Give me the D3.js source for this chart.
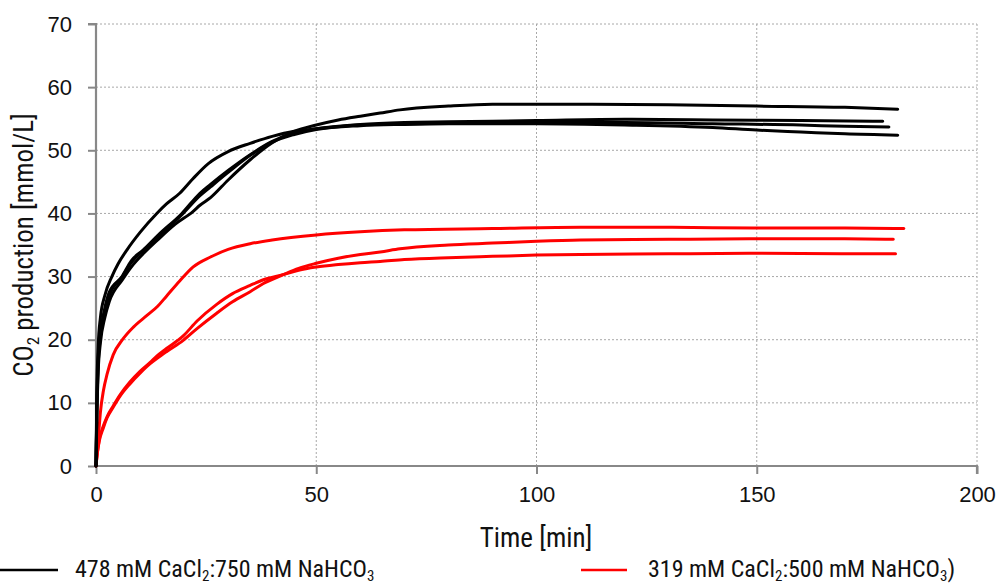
<!DOCTYPE html>
<html><head><meta charset="utf-8">
<script src="https://cdn.jsdelivr.net/npm/d3@7"></script>
<style>
body{margin:0;background:#fff;}
svg{display:block;}
.tick text{font-family:"Liberation Sans",Arial,sans-serif;font-size:22px;fill:#111;}
.ttl{font-family:"Liberation Sans Narrow","Roboto Condensed","Liberation Sans",sans-serif;fill:#111;}
</style></head>
<body><svg id="c" width="1003" height="586"></svg>
<script>
// ---- data (time [min], CO2 [mmol/L]) ----
const xTicks = [0, 50, 100, 150, 200];
const yTicks = [0, 10, 20, 30, 40, 50, 60, 70];
const seriesNames = ["478 mM CaCl2:750 mM NaHCO3", "319 mM CaCl2:500 mM NaHCO3)"];

const black1 = [[0,0],[0.2,8],[0.5,15],[1,19.5],[2,23.5],[3,26],[6,29.5],[8,31.5],[11,33.8],[14,35.8],[18,38.3],[22,40.3],[23.6,41.3],[26,42.5],[30,45.3],[35,48.5],[40,51.2],[45,53.0],[50,54.0],[55,54.8],[60,55.4],[64.5,55.9],[69,56.4],[80,57.0],[90,57.3],[110,57.3],[130,57.2],[150,57.0],[170,56.8],[182,56.5]];
const black2 = [[0,0],[0.2,10],[0.5,17],[1,21],[2,25],[3,27.5],[5.9,30],[8,32.5],[10.7,34.2],[14,36.5],[19.5,40],[23.6,43.2],[26,44.6],[30,46.8],[35,49.3],[40,51.4],[45,52.7],[50,53.4],[60,54.1],[70,54.4],[80,54.5],[100,54.7],[120,54.9],[140,54.8],[160,54.7],[178.6,54.6]];
const black3 = [[0,0],[0.2,12],[0.5,19],[1,23.5],[2,27],[3.6,30],[5,32],[7,34.2],[10,37],[13.8,40],[16,41.5],[19,43.2],[22,45.5],[25.5,47.9],[30,49.8],[35,51.1],[40,52.2],[45,53],[50,53.4],[60,54],[70,54.2],[80,54.3],[100,54.4],[120,54.4],[140,54.2],[160,54.0],[170,53.8],[180,53.7]];
const black4 = [[0,0],[0.2,9],[0.5,16],[1,20.5],[2,24.5],[3,27],[6,30],[8,32.2],[11,34.3],[14,36.3],[19.5,39.8],[23.6,42.8],[26,44.2],[30,46.5],[35,49.2],[40,51.3],[45,52.5],[50,53.3],[60,53.9],[70,54.1],[80,54.2],[100,54.2],[120,54.0],[140,53.6],[150,53.2],[160,52.9],[170,52.6],[182,52.4]];

const red1 = [[0,0],[0.3,3],[0.7,6],[1,8.5],[1.7,12],[2.5,14.5],[3.9,17.6],[6,20],[8.5,22],[11.5,23.8],[14,25.3],[16,26.9],[19,29.3],[22,31.5],[26,33.1],[30,34.3],[35,35.2],[40,35.8],[50,36.6],[60,37.1],[70,37.4],[90,37.6],[110,37.8],[130,37.8],[150,37.7],[170,37.7],[183.4,37.6]];
const red2 = [[0,0],[0.3,2],[0.7,3.8],[1.7,6.1],[2.5,7.6],[3.9,9.3],[5.5,11.1],[7.7,13.0],[10,14.7],[12.3,16.2],[13.8,17.0],[16,18.1],[19.8,19.9],[23,21.8],[27.4,24.2],[31,26.0],[35,27.6],[38,28.9],[42.5,30.3],[46,31.3],[50,32.1],[55,32.9],[60,33.5],[64.5,33.9],[69,34.4],[80,35.0],[90,35.3],[100,35.6],[110,35.8],[130,35.9],[150,36.0],[170,36.0],[181,35.9]];
const red3 = [[0,0],[0.3,2],[0.7,4],[1.7,6.4],[2.5,7.8],[3.9,9.5],[5.5,11.3],[7.7,13.3],[10,15],[12.3,16.4],[13.8,17.4],[16,18.6],[19.8,20.6],[23,23],[27.4,25.6],[31,27.3],[35,28.6],[38,29.5],[42.5,30.3],[46,31],[50,31.5],[55,31.9],[60,32.2],[64.5,32.4],[70,32.7],[80,33.0],[90,33.2],[100,33.4],[110,33.5],[130,33.6],[150,33.7],[170,33.6],[181.5,33.6]];

const blackSeries = [black1, black2, black3, black4];
const redSeries = [red1, red2, red3];

// ---- layout ----
const L = 96, R = 977, T = 24, B = 466;
const svg = d3.select("#c");
const x = d3.scaleLinear().domain([0, 200]).range([L, R]);
const y = d3.scaleLinear().domain([0, 70]).range([B, T]);

// grid
const g = svg.append("g");
g.selectAll(".hg").data(yTicks.filter(d => d > 0)).join("line")
  .attr("x1", L).attr("x2", R).attr("y1", d => y(d)).attr("y2", d => y(d))
  .attr("stroke", "#a8a8a8").attr("stroke-width", 1).attr("stroke-dasharray", "2,2");
g.selectAll(".vg").data(xTicks.filter(d => d > 0)).join("line")
  .attr("y1", T).attr("y2", B).attr("x1", d => x(d)).attr("x2", d => x(d))
  .attr("stroke", "#a8a8a8").attr("stroke-width", 1).attr("stroke-dasharray", "2,2");

// axes
const xAxis = svg.append("g").attr("transform", `translate(0,${B})`)
  .call(d3.axisBottom(x).tickValues(xTicks).tickSize(8).tickPadding(12).tickFormat(d3.format("d")));
const yAxis = svg.append("g").attr("transform", `translate(${L},0)`)
  .call(d3.axisLeft(y).tickValues(yTicks).tickSize(8).tickPadding(16).tickFormat(d3.format("d")));
[xAxis, yAxis].forEach(a => {
  a.select(".domain").attr("stroke", "#888").attr("stroke-width", 2.2);
  a.selectAll(".tick line").attr("stroke", "#888").attr("stroke-width", 2);
});
xAxis.select(".domain").attr("d", `M${L},0H${R}V8`);
yAxis.select(".domain").attr("d", `M-8,${T}H0V${B}`);

// lines
const line = d3.line().x(d => x(d[0])).y(d => y(d[1])).curve(d3.curveMonotoneX);
svg.append("g").selectAll("path").data(redSeries).join("path")
  .attr("d", line).attr("fill", "none").attr("stroke", "#ff0000").attr("stroke-width", 3)
  .attr("stroke-linejoin", "round").attr("stroke-linecap", "round");
svg.append("g").selectAll("path").data(blackSeries).join("path")
  .attr("d", line).attr("fill", "none").attr("stroke", "#000").attr("stroke-width", 3)
  .attr("stroke-linejoin", "round").attr("stroke-linecap", "round");

// axis titles
svg.append("text").attr("class", "ttl").attr("font-size", 27).attr("x", 536).attr("y", 547)
  .attr("text-anchor", "middle").text("Time [min]");
const yt = svg.append("text").attr("class", "ttl").attr("font-size", 27)
  .attr("transform", `translate(33,${(T + B) / 2}) rotate(-90)`).attr("text-anchor", "middle");
yt.append("tspan").text("CO");
yt.append("tspan").attr("font-size", 17).attr("dy", 6).text("2");
yt.append("tspan").attr("dy", -6).text(" production [mmol/L]");

// legend
function legendText(xp, parts) {
  const t = svg.append("text").attr("class", "ttl").attr("font-size", 24).attr("x", xp).attr("y", 577);
  parts.forEach(p => {
    if (p.sub) t.append("tspan").attr("font-size", 15).attr("dy", 4).text(p.s);
    else t.append("tspan").attr("dy", p.after ? -4 : 0).text(p.s);
  });
}
svg.append("line").attr("x1", 0).attr("x2", 58).attr("y1", 570).attr("y2", 570).attr("stroke", "#000").attr("stroke-width", 2.5);
legendText(75, [{s:"478 mM CaCl"},{s:"2",sub:true},{s:":750 mM NaHCO",after:true},{s:"3",sub:true}]);
svg.append("line").attr("x1", 581).attr("x2", 627).attr("y1", 570).attr("y2", 570).attr("stroke", "#ff0000").attr("stroke-width", 2.5);
legendText(648, [{s:"319 mM CaCl"},{s:"2",sub:true},{s:":500 mM NaHCO",after:true},{s:"3",sub:true},{s:")",after:true}]);
</script></body></html>
